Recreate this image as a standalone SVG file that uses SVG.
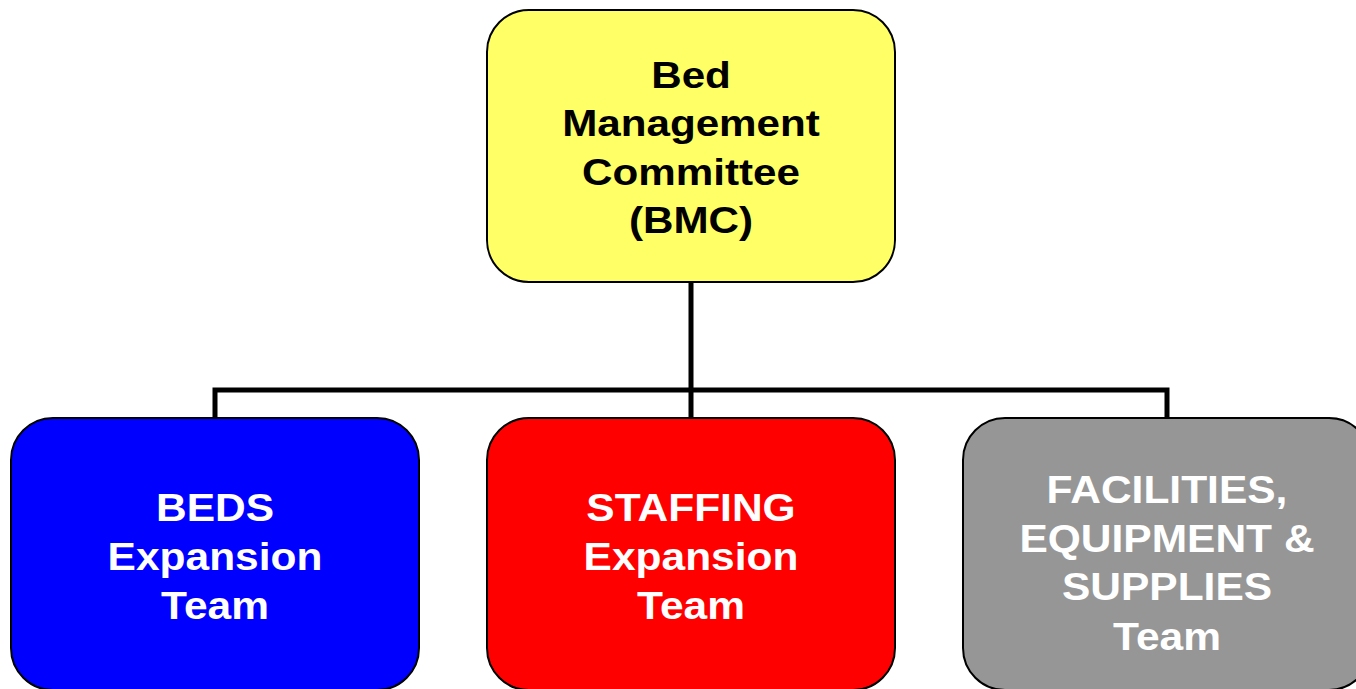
<svg xmlns="http://www.w3.org/2000/svg" width="1356" height="689" viewBox="0 0 1356 689">
<style>
.box{stroke:#000;stroke-width:2}
.t{font-family:"Liberation Sans",Arial,sans-serif;font-weight:bold;text-anchor:middle}
.tt{font-size:37px;fill:#000}
.bt{font-size:39px;fill:#fff}
.conn{fill:none;stroke:#000;stroke-width:5;stroke-linejoin:miter}
</style>
<rect width="1356" height="689" fill="#fff"/>
<g id="connectors">
<path class="conn" d="M691 282V418M215 418V390H1167V418"/>
</g>
<g id="bmc">
<rect class="box" x="487" y="10" width="408" height="272" rx="42" fill="#FFFF66"/>
<g transform="translate(691 0) scale(1.14 1)">
<text class="t tt" x="0" y="88">Bed</text>
<text class="t tt" x="0" y="136">Management</text>
<text class="t tt" x="0" y="185">Committee</text>
<text class="t tt" x="0" y="233">(BMC)</text>
</g>
</g>
<g id="beds">
<rect class="box" x="11" y="418" width="408" height="272" rx="42" fill="#0000FF"/>
<g transform="translate(215 0) scale(1.09 1)">
<text class="t bt" x="0" y="521">BEDS</text>
<text class="t bt" x="0" y="570">Expansion</text>
<text class="t bt" x="0" y="619">Team</text>
</g>
</g>
<g id="staffing">
<rect class="box" x="487" y="418" width="408" height="272" rx="42" fill="#FF0000"/>
<g transform="translate(691 0) scale(1.09 1)">
<text class="t bt" x="0" y="521">STAFFING</text>
<text class="t bt" x="0" y="570">Expansion</text>
<text class="t bt" x="0" y="619">Team</text>
</g>
</g>
<g id="facilities">
<rect class="box" x="963" y="418" width="408" height="272" rx="42" fill="#969696"/>
<g transform="translate(1167 0) scale(1.09 1)">
<text class="t bt" x="0" y="503">FACILITIES,</text>
<text class="t bt" x="0" y="552">EQUIPMENT &amp;</text>
<text class="t bt" x="0" y="600">SUPPLIES</text>
<text class="t bt" x="0" y="650">Team</text>
</g>
</g>
</svg>
